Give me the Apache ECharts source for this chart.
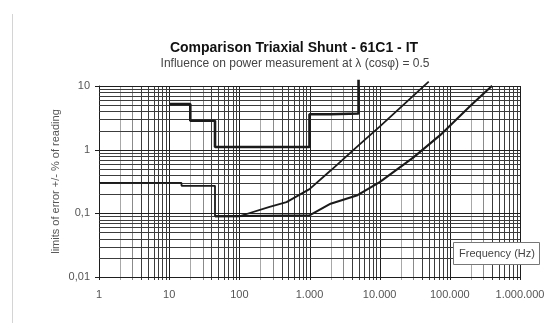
<!DOCTYPE html>
<html>
<head>
<meta charset="utf-8">
<script src="https://cdn.jsdelivr.net/npm/echarts@6/dist/echarts.min.js"></script>
<style>
  html, body { margin: 0; padding: 0; background: #fff; }
  #chart { width: 551px; height: 334px; }
</style>
</head>
<body>
<div id="chart"></div>
<script>
// Frequency axis (Hz) and error axis (% of reading), both logarithmic
const freqMin = 1, freqMax = 1000000;
const errMin = 0.01, errMax = 10;
const freqTickLabels = ['1', '10', '100', '1.000', '10.000', '100.000', '1.000.000'];
const errTickLabels = ['0,01', '0,1', '1', '10'];

// Limit curves: [frequency Hz, limit %]
const stepUpper = [
  [10, 5.2], [20, 5.2], [20, 2.84], [45, 2.84], [45, 1.1], [1000, 1.1],
  [1000, 3.6], [2000, 3.6], [2000, 3.7], [5000, 3.7], [5000, 12.5]
];
const stepLower = [
  [1, 0.3], [15, 0.3], [15, 0.27], [45, 0.27], [45, 0.09], [100, 0.09],
  [270, 0.126], [470, 0.15], [1000, 0.24], [2000, 0.47], [5000, 1.17],
  [10000, 2.3], [50000, 11.7]
];
const flatLower = [
  [45, 0.09], [1000, 0.093], [2000, 0.142], [4700, 0.19], [10000, 0.31],
  [30000, 0.75], [72800, 1.69], [200000, 5.0], [400000, 10.1]
];

// Grid line positions: every 1..9 x 10^k within the axis ranges
function logGridValues(min, max) {
  const out = [];
  for (let e = Math.round(Math.log10(min)); e < Math.round(Math.log10(max)); e++) {
    for (let m = 1; m <= 9; m++) out.push([m * Math.pow(10, e), m]);
  }
  out.push([max, 1]);
  return out;
}
const xGrid = logGridValues(freqMin, freqMax).map(d => [d[0], errMin, d[1]]);
const yGrid = logGridValues(errMin, errMax).map(d => [freqMin, d[0], d[1]]);

const crisp = v => Math.round(v) + 0.5;

function renderXGrid(params, api) {
  const v = api.value(0), m = api.value(2);
  const top = api.coord([v, errMax]);
  const bot = api.coord([v, errMin]);
  let stroke = '#3c3c3c';
  if (m === 1) stroke = '#1e1e1e';
  else if (m === 2) stroke = '#a8a8a8';
  else if (m === 3) stroke = '#8a8a8a';
  const x = crisp(top[0]);
  return {
    type: 'line',
    shape: { x1: x, y1: Math.round(top[1]), x2: x, y2: Math.round(bot[1]) + 3 },
    style: { stroke: stroke, lineWidth: 1 }
  };
}

function renderYGrid(params, api) {
  const v = api.value(1), m = api.value(2);
  const left = api.coord([freqMin, v]);
  const right = api.coord([freqMax, v]);
  const y = crisp(left[1]);
  return {
    type: 'line',
    shape: { x1: Math.round(left[0]) - (m === 1 ? 4 : 0), y1: y, x2: Math.round(right[0]), y2: y },
    style: { stroke: m === 1 ? '#1e1e1e' : '#3c3c3c', lineWidth: 1 }
  };
}

const chart = echarts.init(document.getElementById('chart'), null, { renderer: 'canvas' });

const fontFamily = 'Liberation Sans, Arial, sans-serif';
const labelFont = { color: '#555', fontSize: 11, fontFamily: fontFamily };

chart.setOption({
  backgroundColor: '#fff',
  animation: false,
  grid: { left: 99, right: 31, top: 86, bottom: 57, containLabel: false },
  xAxis: {
    type: 'log',
    logBase: 10,
    min: freqMin,
    max: freqMax,
    axisLine: { show: true, lineStyle: { color: '#222', width: 1 } },
    axisTick: { show: false },
    splitLine: { show: false },
    axisLabel: Object.assign({
      margin: 12,
      formatter: v => freqTickLabels[Math.round(Math.log10(v))]
    }, labelFont)
  },
  yAxis: {
    type: 'log',
    logBase: 10,
    min: errMin,
    max: errMax,
    name: 'limits of error +/- % of reading',
    nameLocation: 'middle',
    nameGap: 38,
    nameMoveOverlap: false,
    nameTextStyle: { color: '#555', fontSize: 11, fontFamily: fontFamily },
    axisLine: { show: true, lineStyle: { color: '#222', width: 1 } },
    axisTick: { show: false },
    splitLine: { show: false },
    axisLabel: Object.assign({
      margin: 9,
      formatter: v => errTickLabels[Math.round(Math.log10(v)) + 2]
    }, labelFont)
  },
  series: [
    {
      type: 'custom', silent: true, clip: false, z: 1,
      renderItem: renderXGrid, data: xGrid
    },
    {
      type: 'custom', silent: true, clip: false, z: 1,
      renderItem: renderYGrid, data: yGrid
    },
    {
      type: 'line', data: flatLower, clip: false, symbol: 'none', z: 3,
      lineStyle: { color: '#1a1a1a', width: 2.1 }
    },
    {
      type: 'line', data: stepLower, clip: false, symbol: 'none', z: 4,
      lineStyle: { color: '#1a1a1a', width: 1.8 }
    },
    {
      type: 'line', data: stepUpper, clip: false, symbol: 'none', z: 5,
      lineStyle: { color: '#1a1a1a', width: 2.6 }
    }
  ],
  graphic: [
    {
      type: 'text', silent: true, x: 294, y: 48, z: 50,
      style: {
        text: 'Comparison Triaxial Shunt - 61C1 - IT', align: 'center', verticalAlign: 'middle',
        fill: '#111', fontSize: 14, fontWeight: 'bold', fontFamily: fontFamily
      }
    },
    {
      type: 'text', silent: true, x: 295, y: 64, z: 50,
      style: {
        text: 'Influence on power measurement at \u03bb (cos\u03c6) = 0.5', align: 'center', verticalAlign: 'middle',
        fill: '#444', fontSize: 12, fontFamily: fontFamily
      }
    },
    {
      type: 'line', silent: true, z: 50,
      shape: { x1: 12.5, y1: 14, x2: 12.5, y2: 323 },
      style: { stroke: '#d4d4d4', lineWidth: 1 }
    },
    {
      type: 'rect', silent: true, z: 100,
      shape: { x: 453.5, y: 242.5, width: 86, height: 22 },
      style: { fill: '#fff', stroke: '#777', lineWidth: 1 }
    },
    {
      type: 'text', silent: true, z: 101, x: 497, y: 254,
      style: {
        text: 'Frequency (Hz)', align: 'center', verticalAlign: 'middle',
        fill: '#444', fontSize: 11, fontFamily: fontFamily
      }
    }
  ]
});
</script>
</body>
</html>
